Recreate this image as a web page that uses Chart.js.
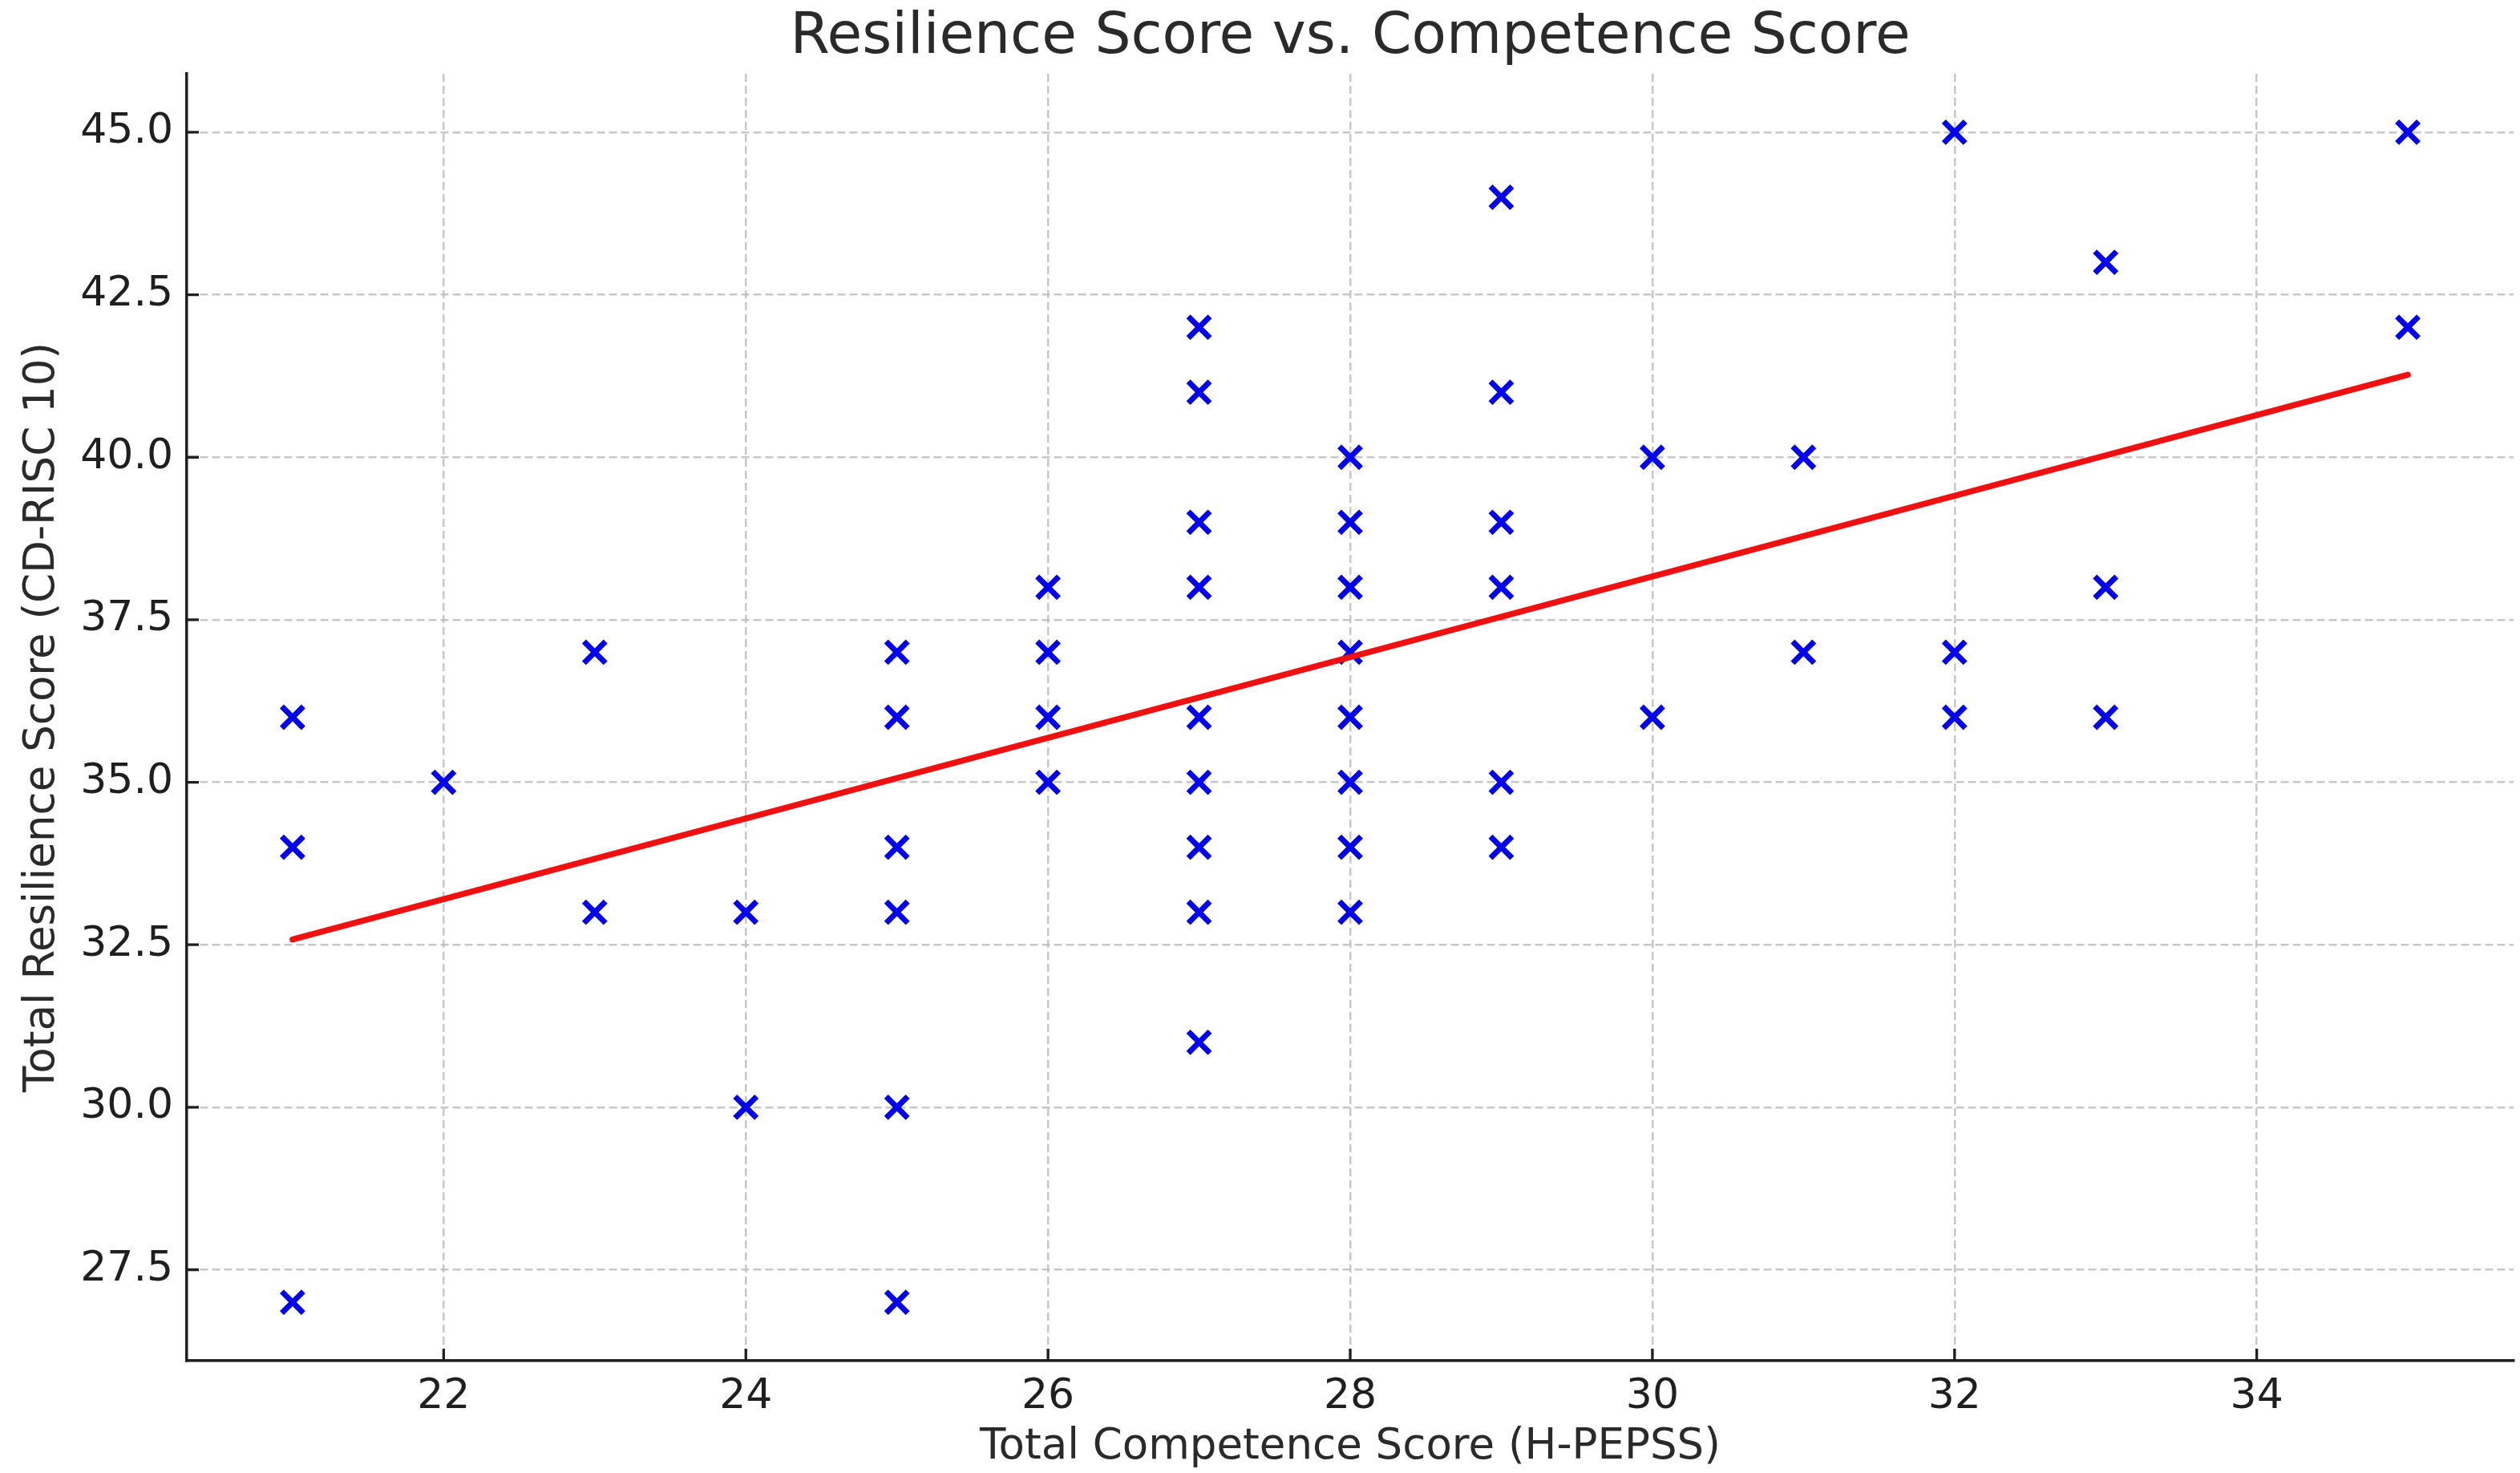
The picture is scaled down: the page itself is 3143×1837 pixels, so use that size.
<!DOCTYPE html>
<html>
<head>
<meta charset="utf-8">
<title>Resilience Score vs. Competence Score</title>
<script src="https://cdn.jsdelivr.net/npm/chart.js@4/dist/chart.umd.min.js"></script>
<style>
  html, body { margin: 0; padding: 0; background: #ffffff; overflow: hidden; }
  #wrap { width: 3143px; height: 1837px; }
  canvas { display: block; }
</style>
</head>
<body>
<div id="wrap"><canvas id="chart" width="3143" height="1837"></canvas></div>
<script>
// Total competence (H-PEPSS) and total resilience (CD-RISC 10) per respondent
const competence = [
  21, 21, 21,
  22,
  23, 23,
  24, 24,
  25, 25, 25, 25, 25, 25,
  26, 26, 26, 26,
  27, 27, 27, 27, 27, 27, 27, 27, 27,
  28, 28, 28, 28, 28, 28, 28, 28,
  29, 29, 29, 29, 29, 29,
  30, 30,
  31, 31,
  32, 32, 32,
  33, 33, 33,
  35, 35
];
const resilience = [
  36, 34, 27,
  35,
  37, 33,
  33, 30,
  37, 36, 34, 33, 30, 27,
  38, 37, 36, 35,
  42, 41, 39, 38, 36, 35, 34, 33, 31,
  40, 39, 38, 37, 36, 35, 34, 33,
  44, 41, 39, 38, 35, 34,
  40, 36,
  40, 37,
  45, 37, 36,
  43, 38, 36,
  45, 42
];

// Fitted trend line end points
const trendX = [21, 35];
const trendY = [32.58, 41.27];

// Axis ranges and tick spacing
const xRange = [20.3, 35.7];
const yRange = [26.1, 45.9];
const xStep = 2;
const yStep = 2.5;

const chartTitle = 'Resilience Score vs. Competence Score';
const xTitle = 'Total Competence Score (H-PEPSS)';
const yTitle = 'Total Resilience Score (CD-RISC 10)';

const FONT = "'DejaVu Sans', 'Liberation Sans', sans-serif";
const INK = '#1f1f1f';
const LABEL_INK = '#2a2a2a';

const points = competence.map((x, i) => ({ x: x, y: resilience[i] }));
const trend = trendX.map((x, i) => ({ x: x, y: trendY[i] }));

// Inward tick marks on the left and bottom axes
const innerTicks = {
  id: 'innerTicks',
  afterDraw(chart) {
    const ctx = chart.ctx;
    const area = chart.chartArea;
    const len = 15;
    ctx.save();
    ctx.strokeStyle = INK;
    ctx.lineWidth = 3.3;
    ctx.lineCap = 'butt';
    ctx.beginPath();
    const xs = chart.scales.x;
    xs.ticks.forEach(t => {
      const px = xs.getPixelForValue(t.value);
      ctx.moveTo(px, area.bottom);
      ctx.lineTo(px, area.bottom - len);
    });
    const ys = chart.scales.y;
    ys.ticks.forEach(t => {
      const py = ys.getPixelForValue(t.value);
      ctx.moveTo(area.left, py);
      ctx.lineTo(area.left + len, py);
    });
    ctx.stroke();
    ctx.restore();
  }
};

// Chart title centred over the plotting area
const plotTitle = {
  id: 'plotTitle',
  afterDraw(chart) {
    const ctx = chart.ctx;
    const area = chart.chartArea;
    ctx.save();
    ctx.fillStyle = LABEL_INK;
    ctx.font = "71px " + FONT;
    ctx.textAlign = 'center';
    ctx.textBaseline = 'alphabetic';
    ctx.fillText(chartTitle, (area.left + area.right) / 2, 66);
    ctx.restore();
  }
};

new Chart(document.getElementById('chart'), {
  type: 'scatter',
  data: {
    datasets: [
      {
        type: 'line',
        label: 'Trend',
        data: trend,
        borderColor: '#f01010',
        borderWidth: 7.5,
        borderCapStyle: 'round',
        pointRadius: 0,
        fill: false,
        order: 0
      },
      {
        label: 'Respondents',
        data: points,
        pointStyle: 'crossRot',
        pointRadius: 19,
        pointBorderWidth: 7,
        borderColor: '#0000ee',
        backgroundColor: '#0000ee',
        order: 1
      }
    ]
  },
  options: {
    responsive: false,
    animation: false,
    devicePixelRatio: 1,
    layout: { autoPadding: false, padding: { left: 0, right: 8, top: 92, bottom: 0 } },
    plugins: {
      legend: { display: false },
      tooltip: { enabled: false },
      title: { display: false }
    },
    scales: {
      x: {
        type: 'linear',
        position: 'bottom',
        min: xRange[0],
        max: xRange[1],
        afterFit(scale) { scale.height = 140; },
        ticks: {
          stepSize: xStep,
          includeBounds: false,
          color: INK,
          padding: 14,
          font: { family: FONT, size: 52 },
          callback: v => String(v)
        },
        grid: {
          drawTicks: false,
          color: 'rgba(185,185,185,0.8)',
          lineWidth: 2.5
        },
        border: { display: true, color: INK, width: 3.5, dash: [10, 5] },
        title: {
          display: true,
          text: xTitle,
          color: LABEL_INK,
          font: { family: FONT, size: 53, lineHeight: 1.2 },
          padding: { top: 0, bottom: 0 }
        }
      },
      y: {
        type: 'linear',
        position: 'left',
        min: yRange[0],
        max: yRange[1],
        afterFit(scale) { scale.width = 233; },
        ticks: {
          stepSize: yStep,
          includeBounds: false,
          color: INK,
          padding: 17,
          font: { family: FONT, size: 52 },
          callback: v => Number(v).toFixed(1)
        },
        grid: {
          drawTicks: false,
          color: 'rgba(185,185,185,0.8)',
          lineWidth: 2.5
        },
        border: { display: true, color: INK, width: 3.5, dash: [10, 5] },
        title: {
          display: true,
          text: yTitle,
          color: LABEL_INK,
          font: { family: FONT, size: 53, lineHeight: 1.2 },
          padding: { top: 21, bottom: 0 }
        }
      }
    }
  },
  plugins: [innerTicks, plotTitle]
});
</script>
</body>
</html>
